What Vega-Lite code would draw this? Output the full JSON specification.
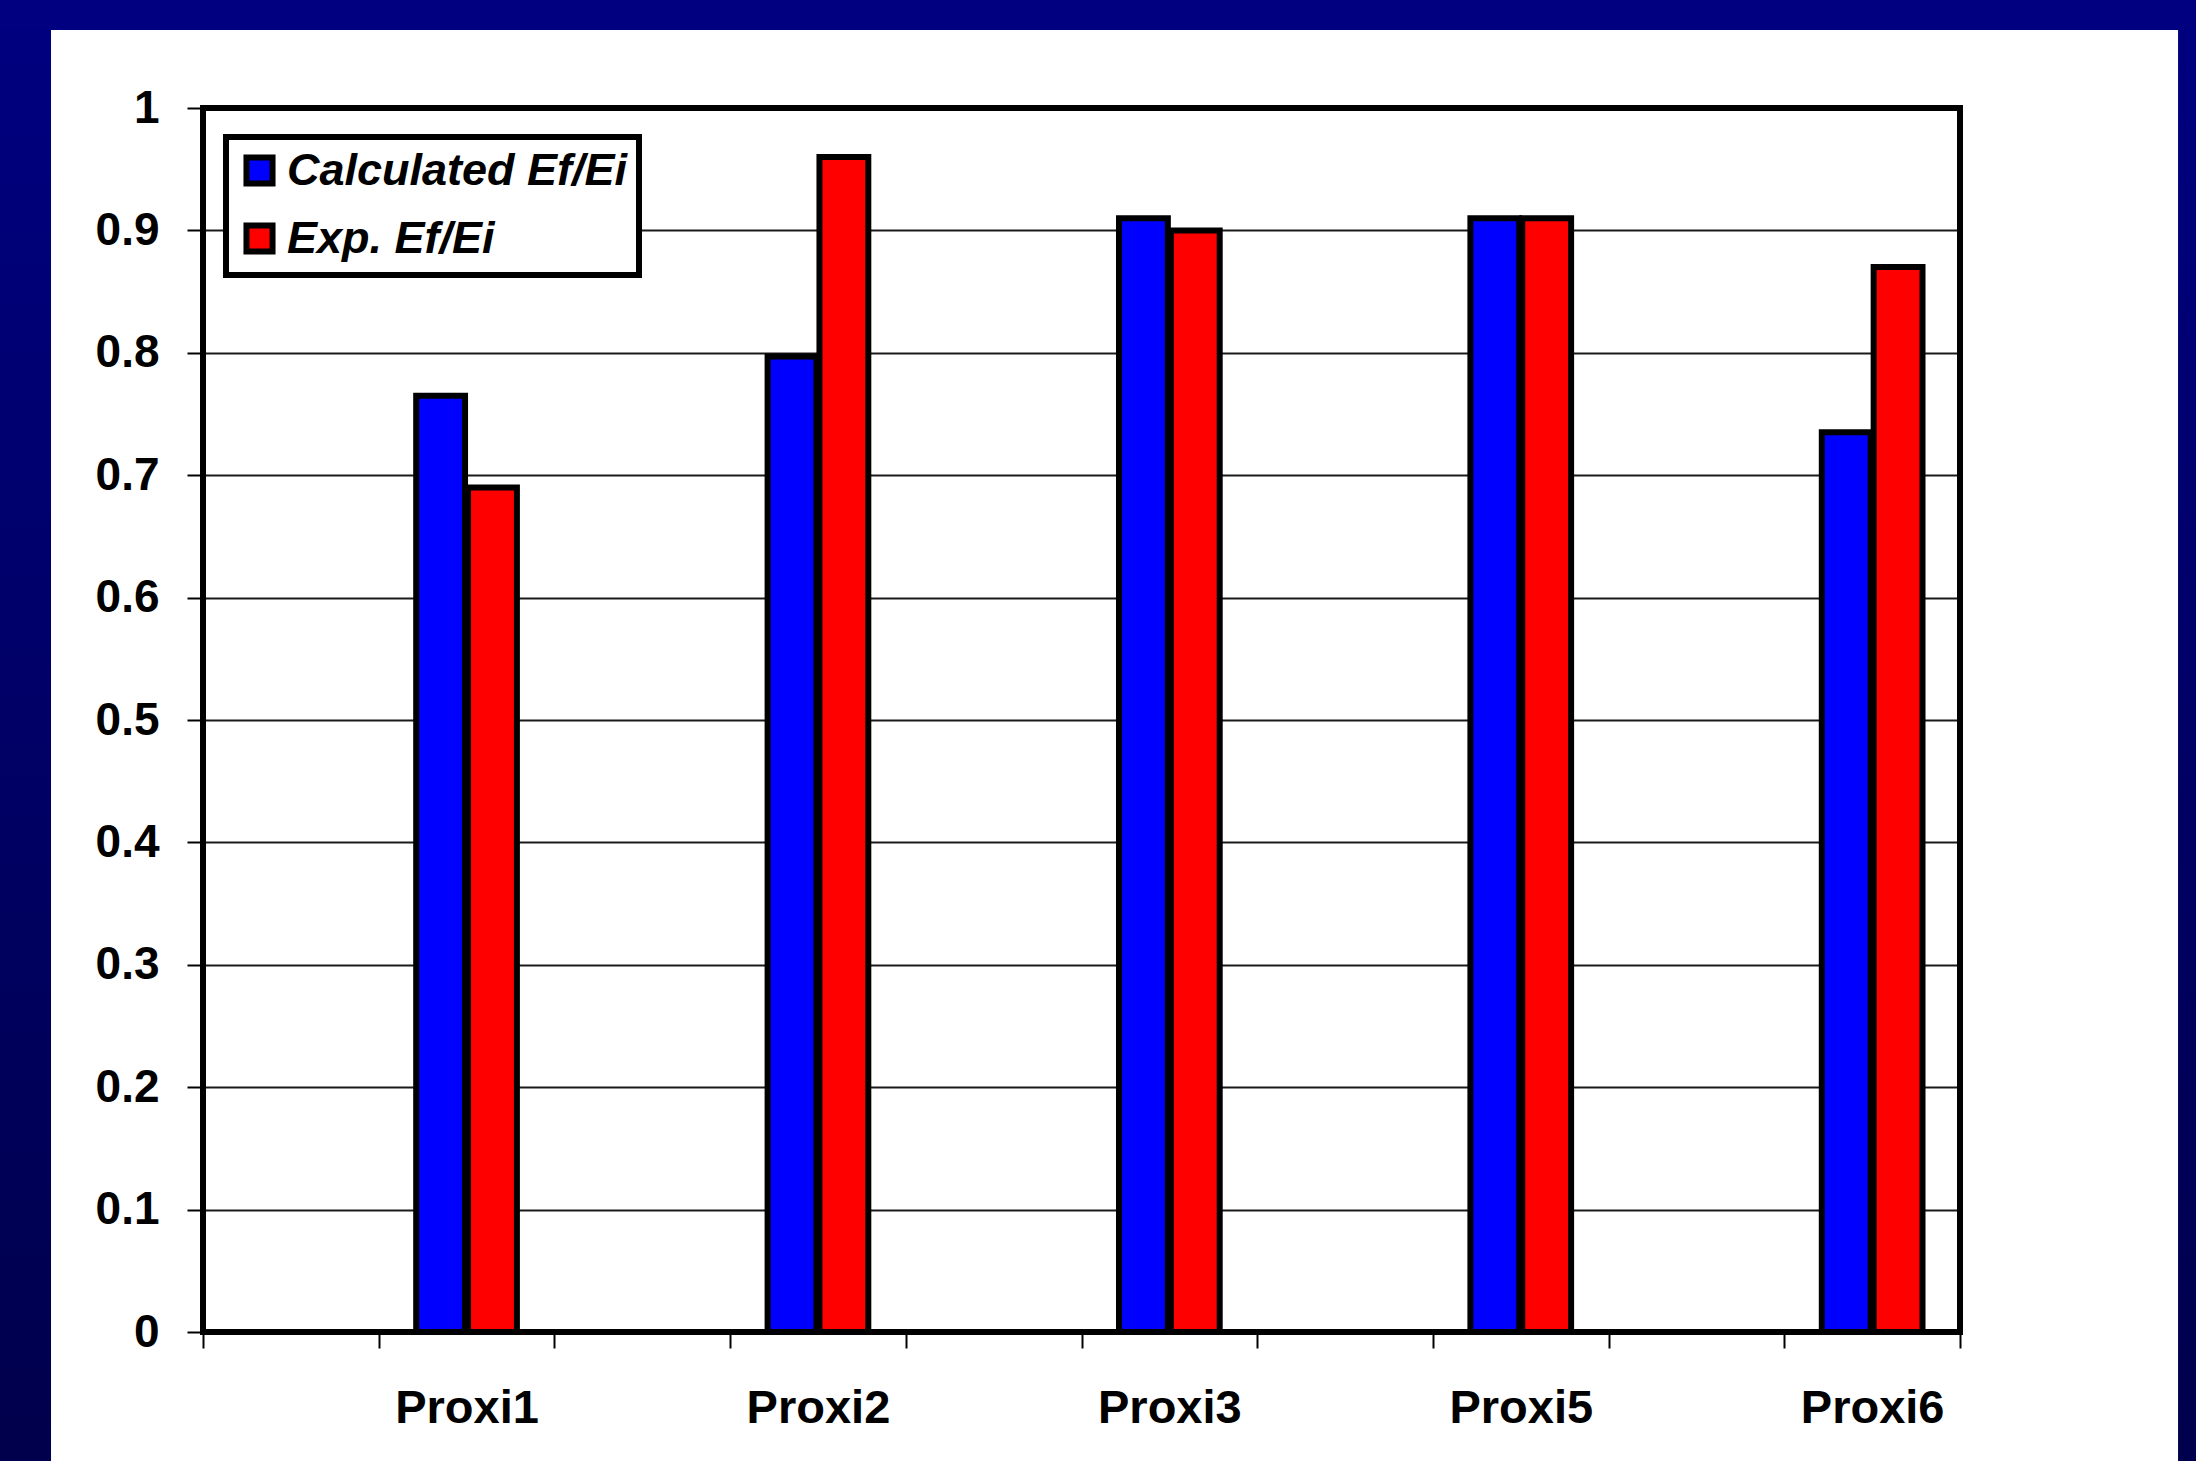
{
  "$schema": "https://vega.github.io/schema/vega-lite/v6.json",
  "width": 1757,
  "height": 1224,
  "autosize": {"type": "none"},
  "padding": {"left": 203, "top": 108, "right": 236, "bottom": 129},
  "background": "#ffffff",
  "config": {
    "view": {"stroke": null},
    "font": "Liberation Sans",
    "legend": {"strokeWidth": 6}
  },
  "layer": [
    {
      "data": {"values": [{}]},
      "mark": {
        "type": "rect",
        "fill": {
          "gradient": "linear",
          "x1": 0, "y1": 0, "x2": 0, "y2": 1,
          "stops": [
            {"offset": 0, "color": "#000080"},
            {"offset": 1, "color": "#00004c"}
          ]
        }
      },
      "encoding": {
        "x": {"datum": -0.1156, "type": "quantitative", "scale": {"domain": [0, 1], "nice": false, "zero": false}, "axis": null},
        "x2": {"datum": -0.0865},
        "y": {"datum": 1.0883, "type": "quantitative", "scale": {"domain": [0, 1], "nice": false, "zero": false}, "axis": null},
        "y2": {"datum": -0.1055}
      }
    },
    {
      "data": {"values": [{}]},
      "mark": {
        "type": "rect",
        "fill": {
          "gradient": "linear",
          "x1": 0, "y1": 0, "x2": 0, "y2": 1,
          "stops": [
            {"offset": 0, "color": "#000080"},
            {"offset": 1, "color": "#00004c"}
          ]
        }
      },
      "encoding": {
        "x": {"datum": 1.1241, "type": "quantitative", "scale": {"domain": [0, 1], "nice": false, "zero": false}, "axis": null},
        "x2": {"datum": 1.1344},
        "y": {"datum": 1.0883, "type": "quantitative", "scale": {"domain": [0, 1], "nice": false, "zero": false}, "axis": null},
        "y2": {"datum": -0.1055}
      }
    },
    {
      "data": {"values": [{}]},
      "mark": {"type": "rect", "fill": "#000080"},
      "encoding": {
        "x": {"datum": -0.1156, "type": "quantitative", "scale": {"domain": [0, 1], "nice": false, "zero": false}, "axis": null},
        "x2": {"datum": 1.1344},
        "y": {"datum": 1.0883, "type": "quantitative", "scale": {"domain": [0, 1], "nice": false, "zero": false}, "axis": null},
        "y2": {"datum": 1.0637}
      }
    },
    {
      "data": {
        "values": [
          {"slot": "Proxi1", "series": "Calculated Ef/Ei", "value": 0.765},
          {"slot": "Proxi1", "series": "Exp. Ef/Ei", "value": 0.69},
          {"slot": "Proxi2", "series": "Calculated Ef/Ei", "value": 0.797},
          {"slot": "Proxi2", "series": "Exp. Ef/Ei", "value": 0.96},
          {"slot": "Proxi3", "series": "Calculated Ef/Ei", "value": 0.91},
          {"slot": "Proxi3", "series": "Exp. Ef/Ei", "value": 0.9},
          {"slot": "Proxi5", "series": "Calculated Ef/Ei", "value": 0.91},
          {"slot": "Proxi5", "series": "Exp. Ef/Ei", "value": 0.91},
          {"slot": "Proxi6", "series": "Calculated Ef/Ei", "value": 0.735},
          {"slot": "Proxi6", "series": "Exp. Ef/Ei", "value": 0.87}
        ]
      },
      "mark": {"type": "bar", "stroke": "#000000", "strokeWidth": 6},
      "encoding": {
        "x": {
          "field": "slot",
          "type": "nominal",
          "scale": {
            "domain": ["_a", "Proxi1", "_b", "Proxi2", "_c", "Proxi3", "_d", "Proxi5", "_e", "Proxi6"],
            "paddingInner": 0,
            "paddingOuter": 0
          },
          "axis": {
            "orient": "bottom",
            "title": null,
            "domain": false,
            "grid": false,
            "tickBand": "extent",
            "tickSize": 16,
            "tickWidth": 2,
            "tickColor": "#000000",
            "labelAngle": 0,
            "labelExpr": "indexof(datum.label, 'Proxi') === 0 ? datum.label : ''",
            "labelFont": "Liberation Sans",
            "labelFontWeight": "bold",
            "labelFontSize": 47,
            "labelColor": "#000000",
            "labelPadding": 37,
            "labelLimit": 1000
          }
        },
        "xOffset": {
          "field": "series",
          "type": "nominal",
          "scale": {
            "domain": ["Calculated Ef/Ei", "Exp. Ef/Ei"],
            "paddingInner": 0.058,
            "paddingOuter": 0.723
          }
        },
        "y": {
          "field": "value",
          "type": "quantitative",
          "scale": {"domain": [0, 1], "nice": false, "zero": true},
          "axis": {
            "orient": "left",
            "title": null,
            "domain": false,
            "values": [0, 0.1, 0.2, 0.3, 0.4, 0.5, 0.6, 0.7, 0.8, 0.9, 1],
            "format": "~g",
            "grid": true,
            "gridColor": "#1a1a1a",
            "gridWidth": 2,
            "tickSize": 16,
            "tickWidth": 2,
            "tickColor": "#000000",
            "labelFont": "Liberation Sans",
            "labelFontWeight": "bold",
            "labelFontSize": 46,
            "labelColor": "#000000",
            "labelPadding": 28
          }
        },
        "color": {
          "field": "series",
          "type": "nominal",
          "scale": {
            "domain": ["Calculated Ef/Ei", "Exp. Ef/Ei"],
            "range": ["#0000ff", "#ff0000"]
          },
          "legend": {
            "title": null,
            "orient": "none",
            "legendX": 23,
            "legendY": 29,
            "symbolType": "square",
            "symbolSize": 680,
            "symbolStrokeWidth": 6,
            "symbolStrokeColor": "#000000",
            "symbolOpacity": 1,
            "labelFont": "Liberation Sans",
            "labelFontSize": 45,
            "labelFontStyle": "italic",
            "labelFontWeight": "bold",
            "labelColor": "#000000",
            "labelLimit": 1000,
            "labelOffset": 5,
            "rowPadding": 17,
            "padding": 11,
            "fillColor": "#ffffff",
            "strokeColor": "#000000",
            "cornerRadius": 0
          }
        }
      }
    },
    {
      "data": {"values": [{}]},
      "mark": {"type": "rect", "fill": "transparent", "stroke": "#000000", "strokeWidth": 6},
      "encoding": {}
    }
  ],
  "resolve": {"scale": {"x": "independent", "y": "independent"}}
}
